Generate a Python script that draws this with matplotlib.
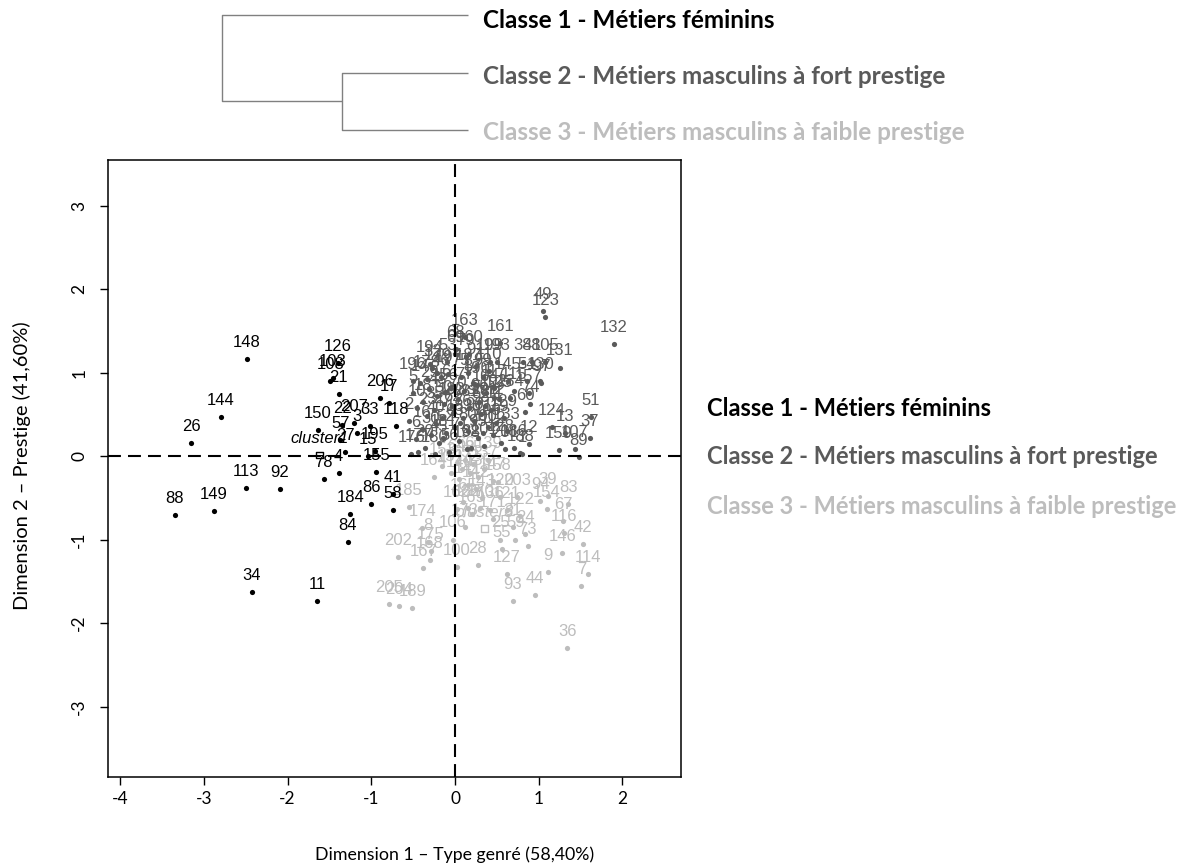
import matplotlib

matplotlib.use("Agg")

import matplotlib.pyplot as plt

W, H = 1192, 865
C1, C2, C3 = "#000000", "#5a5a5a", "#bdbdbd"
TREE = "#808080"

# classe 1 - métiers féminins
c1_lab = ["148", "144", "26", "88", "149", "113", "92", "34", "11", "126", "103",
          "108", "21", "206", "17", "118", "33", "207", "22", "150", "57", "3",
          "27", "195", "15", "155", "4", "78", "41", "86", "58", "184", "84"]
c1_x = [-2.49, -2.80, -3.15, -3.35, -2.88, -2.50, -2.09, -2.43, -1.65, -1.40, -1.46,
        -1.49, -1.39, -0.90, -0.79, -0.70, -1.02, -1.21, -1.35, -1.64, -1.37, -1.17,
        -1.31, -0.96, -1.04, -0.94, -1.39, -1.57, -0.74, -1.00, -0.74, -1.25, -1.28]
c1_y = [1.16, 0.47, 0.15, -0.71, -0.66, -0.38, -0.40, -1.63, -1.74, 1.11, 0.93,
        0.90, 0.74, 0.69, 0.64, 0.36, 0.36, 0.39, 0.37, 0.31, 0.19, 0.28,
        0.05, 0.06, 0.00, -0.19, -0.20, -0.28, -0.46, -0.57, -0.65, -0.69, -1.03]

# classe 2 - métiers masculins à fort prestige
c2_lab = ["49", "123", "132", "161", "163", "131", "105", "38", "48", "130", "54",
          "145", "97", "115", "157", "74", "60", "124", "13", "51", "37", "159",
          "107", "89", "12", "186", "188", "1", "196", "179", "156", "69", "160",
          "199", "193",
          "2", "5", "6", "10", "14", "16", "18", "20", "23", "29",
          "30", "32", "35", "40", "43", "45", "46", "47", "50", "52",
          "53", "56", "61", "62", "63", "68", "70", "71", "75", "76",
          "77", "79", "80", "81", "82", "87", "90", "91", "95", "96",
          "98", "99", "101", "104", "109", "110", "111", "112", "117", "119",
          "125", "128", "129", "133", "134", "176", "177", "178", "180", "181",
          "182", "183", "187", "190", "191", "192", "194", "197", "198", "200", "201"]
c2_x = [1.05, 1.08, 1.90, 0.54, 0.12, 1.25, 1.08, 0.81, 0.92, 1.02, 0.86,
        0.63, 1.03, 0.70, 0.88, 0.90, 0.84, 1.16, 1.31, 1.62, 1.61, 1.24,
        1.43, 1.48, 0.88, 0.70, 0.78, 0.80, -0.50, -0.21, -0.12, 0.00, 0.17,
        0.42, 0.50,
        -0.55, -0.50, -0.47, -0.45, -0.42, -0.40, -0.38, -0.36, -0.33, -0.31,
        -0.29, -0.27, -0.25, -0.23, -0.21, -0.19, -0.17, -0.15, -0.13, -0.11,
        -0.09, -0.07, -0.05, -0.03, -0.01, 0.01, 0.03, 0.05, 0.07, 0.09,
        0.11, 0.13, 0.15, 0.17, 0.19, 0.21, 0.23, 0.25, 0.27, 0.29,
        0.31, 0.33, 0.35, 0.37, 0.39, 0.41, 0.43, 0.45, 0.47, 0.49,
        0.52, 0.55, 0.58, 0.62, 0.66, -0.52, -0.44, -0.34, -0.24, -0.14,
        -0.04, 0.06, 0.16, 0.26, 0.36, 0.46, -0.30, -0.08, 0.14, 0.34, 0.60]
c2_y = [1.74, 1.66, 1.34, 1.35, 1.42, 1.06, 1.13, 1.13, 1.13, 0.90, 0.90,
        0.90, 0.87, 0.78, 0.76, 0.62, 0.53, 0.35, 0.28, 0.47, 0.22, 0.07,
        0.08, -0.01, 0.14, 0.10, 0.04, 0.02, 0.90, 1.00, 0.77, 1.22, 1.22,
        1.12, 1.12,
        0.42, 0.75, 0.20, 0.58, 0.88, 0.32, 0.65, 0.10, 0.48, 0.80,
        0.25, 1.05, 0.55, 0.38, 0.72, 0.15, 0.95, 0.45, 0.62, 0.28,
        1.12, 0.05, 0.82, 0.52, 0.35, 1.28, 0.68, 0.18, 0.95, 0.45,
        0.78, 1.18, 0.30, 0.58, 0.10, 0.88, 0.42, 1.08, 0.22, 0.65,
        0.50, 0.95, 0.12, 0.75, 0.35, 1.02, 0.55, 0.25, 0.82, 0.40,
        0.68, 0.15, 0.45, 0.30, 0.70, 0.02, 0.05, 0.92, 0.02, 0.22,
        0.60, 0.40, 1.00, 0.85, 0.60, 0.70, 1.10, 0.98, 0.08, 0.28, 0.08]

# classe 3 - métiers masculins à faible prestige
c3_lab = ["185", "174", "8", "175", "167", "168", "202", "106", "100", "28", "127",
          "93", "44", "9", "146", "114", "7", "42", "116", "67", "83", "39",
          "94", "154", "36", "205", "204", "189", "120", "203", "136", "121", "122",
          "31", "24", "25", "59", "55", "73", "158", "152", "162",
          "64", "65", "66", "72", "85", "135", "137", "139", "140", "141", "142",
          "143", "147", "151", "153", "164", "165", "169", "170", "171", "173"]
c3_x = [-0.55, -0.39, -0.32, -0.29, -0.38, -0.30, -0.68, -0.03, 0.02, 0.27, 0.62,
        0.69, 0.96, 1.11, 1.28, 1.59, 1.51, 1.53, 1.30, 1.29, 1.35, 1.11,
        1.02, 1.10, 1.34, -0.79, -0.67, -0.51, 0.54, 0.74, 0.42, 0.62, 0.78,
        0.69, 0.84, 0.54, 0.72, 0.56, 0.87, 0.51, 0.15, 0.02,
        0.02, 0.08, 0.12, 0.18, 0.22, 0.28, 0.35, 0.40, 0.05, 0.15, 0.25,
        0.32, 0.45, -0.05, -0.15, -0.25, 0.10, 0.20, 0.30, 0.45, 0.12]
c3_y = [-0.61, -0.86, -1.03, -1.14, -1.34, -1.25, -1.21, -1.00, -1.33, -1.31, -1.41,
        -1.74, -1.66, -1.39, -1.16, -1.41, -1.56, -1.05, -0.92, -0.78, -0.57, -0.48,
        -0.54, -0.63, -2.30, -1.77, -1.80, -1.82, -0.49, -0.49, -0.65, -0.65, -0.72,
        -0.85, -0.93, -1.00, -1.00, -1.11, -1.08, -0.31, -0.62, -0.63,
        -0.08, -0.15, -0.05, -0.20, -0.10, -0.25, -0.15, -0.05, -0.28, -0.35, -0.40,
        -0.50, -0.30, -0.20, -0.12, -0.25, -0.55, -0.70, -0.62, -0.75, -0.85]

# centres des classes
centre_lab = ["cluster1", "cluster2", "cluster3"]
centre_x = [-1.62, 0.25, 0.35]
centre_y = [0.01, 0.60, -0.87]

# dendrogramme : hauteurs de fusion (relatives)
leaf_names = ["Classe 1 - Métiers féminins",
              "Classe 2 - Métiers masculins à fort prestige",
              "Classe 3 - Métiers masculins à faible prestige"]
merge_23 = 0.512
merge_root = 1.0

x_ticks = [-4, -3, -2, -1, 0, 1, 2]
y_ticks = [-3, -2, -1, 0, 1, 2, 3]


def box(x0, y0, x1, y1):
    return [x0 / W, 1 - y1 / H, (x1 - x0) / W, (y1 - y0) / H]


fig = plt.figure(figsize=(W / 100, H / 100), dpi=100, facecolor="white")

# --- nuage de points
ax = fig.add_axes(box(108, 160, 680.5, 777))
ax.set_xlim(-4.146, 2.694)
ax.set_ylim(-3.844, 3.545)

for xs, ys, labs, col in [(c3_x, c3_y, c3_lab, C3), (c2_x, c2_y, c2_lab, C2), (c1_x, c1_y, c1_lab, C1)]:
    ax.scatter(xs, ys, s=14, color=col, zorder=2, linewidths=0)
    for x, y, lab in zip(xs, ys, labs):
        ax.annotate(lab, (x, y), xytext=(0, 6.5), textcoords="offset points",
                    ha="center", va="bottom", color=col, fontsize=12,
                    family="Liberation Sans", zorder=2)

for x, y, lab, col in zip(centre_x, centre_y, centre_lab, [C1, C2, C3]):
    ax.scatter([x], [y], s=22, marker="s", facecolors="none", edgecolors=col, linewidths=1, zorder=2)
    ax.annotate(lab, (x, y), xytext=(0, 6.5), textcoords="offset points",
                ha="center", va="bottom", color=col, fontsize=12, style="italic",
                family="Liberation Sans", zorder=2)

ax.axhline(0, color="black", lw=1.5, ls=(0, (6.2, 3.4)), zorder=3)
ax.axvline(0, color="black", lw=1.5, ls=(0, (6.2, 3.4)), zorder=3)

ax.set_xticks(x_ticks)
ax.set_yticks(y_ticks)
ax.set_xticklabels([str(t) for t in x_ticks], family="Lato", fontsize=12.5)
ax.set_yticklabels([str(t) for t in y_ticks], family="Lato", fontsize=12.5, rotation=90, va="center")
ax.tick_params(axis="x", length=6, width=1, pad=4)
ax.tick_params(axis="y", length=6, width=1, pad=9)
for sp in ax.spines.values():
    sp.set_linewidth(1.1)

fig.text(455 / W, 1 - 855 / H, "Dimension 1 – Type genré (58,40%)", ha="center", va="center",
         family="Lato", fontsize=12.8)
fig.text(22 / W, 1 - 466 / H, "Dimension 2 – Prestige (41,60%)", ha="center", va="center",
         rotation=90, family="Lato", fontsize=14.5)

# --- dendrogramme
axd = fig.add_axes(box(222, 15, 468, 130))
axd.set_xlim(merge_root, 0)
axd.set_ylim(2, 0)
axd.axis("off")
kw = dict(color=TREE, lw=1.0, clip_on=False, solid_capstyle="butt")
axd.plot([0, merge_23, merge_23, 0], [1, 1, 2, 2], **kw)
axd.plot([0, merge_root, merge_root, merge_23], [0, 0, 1.5, 1.5], **kw)

# --- libellés des classes (dendrogramme et légende)
for i, (name, col) in enumerate(zip(leaf_names, [C1, C2, C3])):
    fig.text(483 / W, 1 - (21 + 56 * i) / H, name, ha="left", va="center", color=col,
             family="Lato", fontweight="bold", fontsize=17.5)
    fig.text(707 / W, 1 - (408 + 49 * i) / H, name, ha="left", va="center", color=col,
             family="Lato", fontweight="bold", fontsize=17.0)

fig.savefig("out.png", dpi=100, facecolor="white")
